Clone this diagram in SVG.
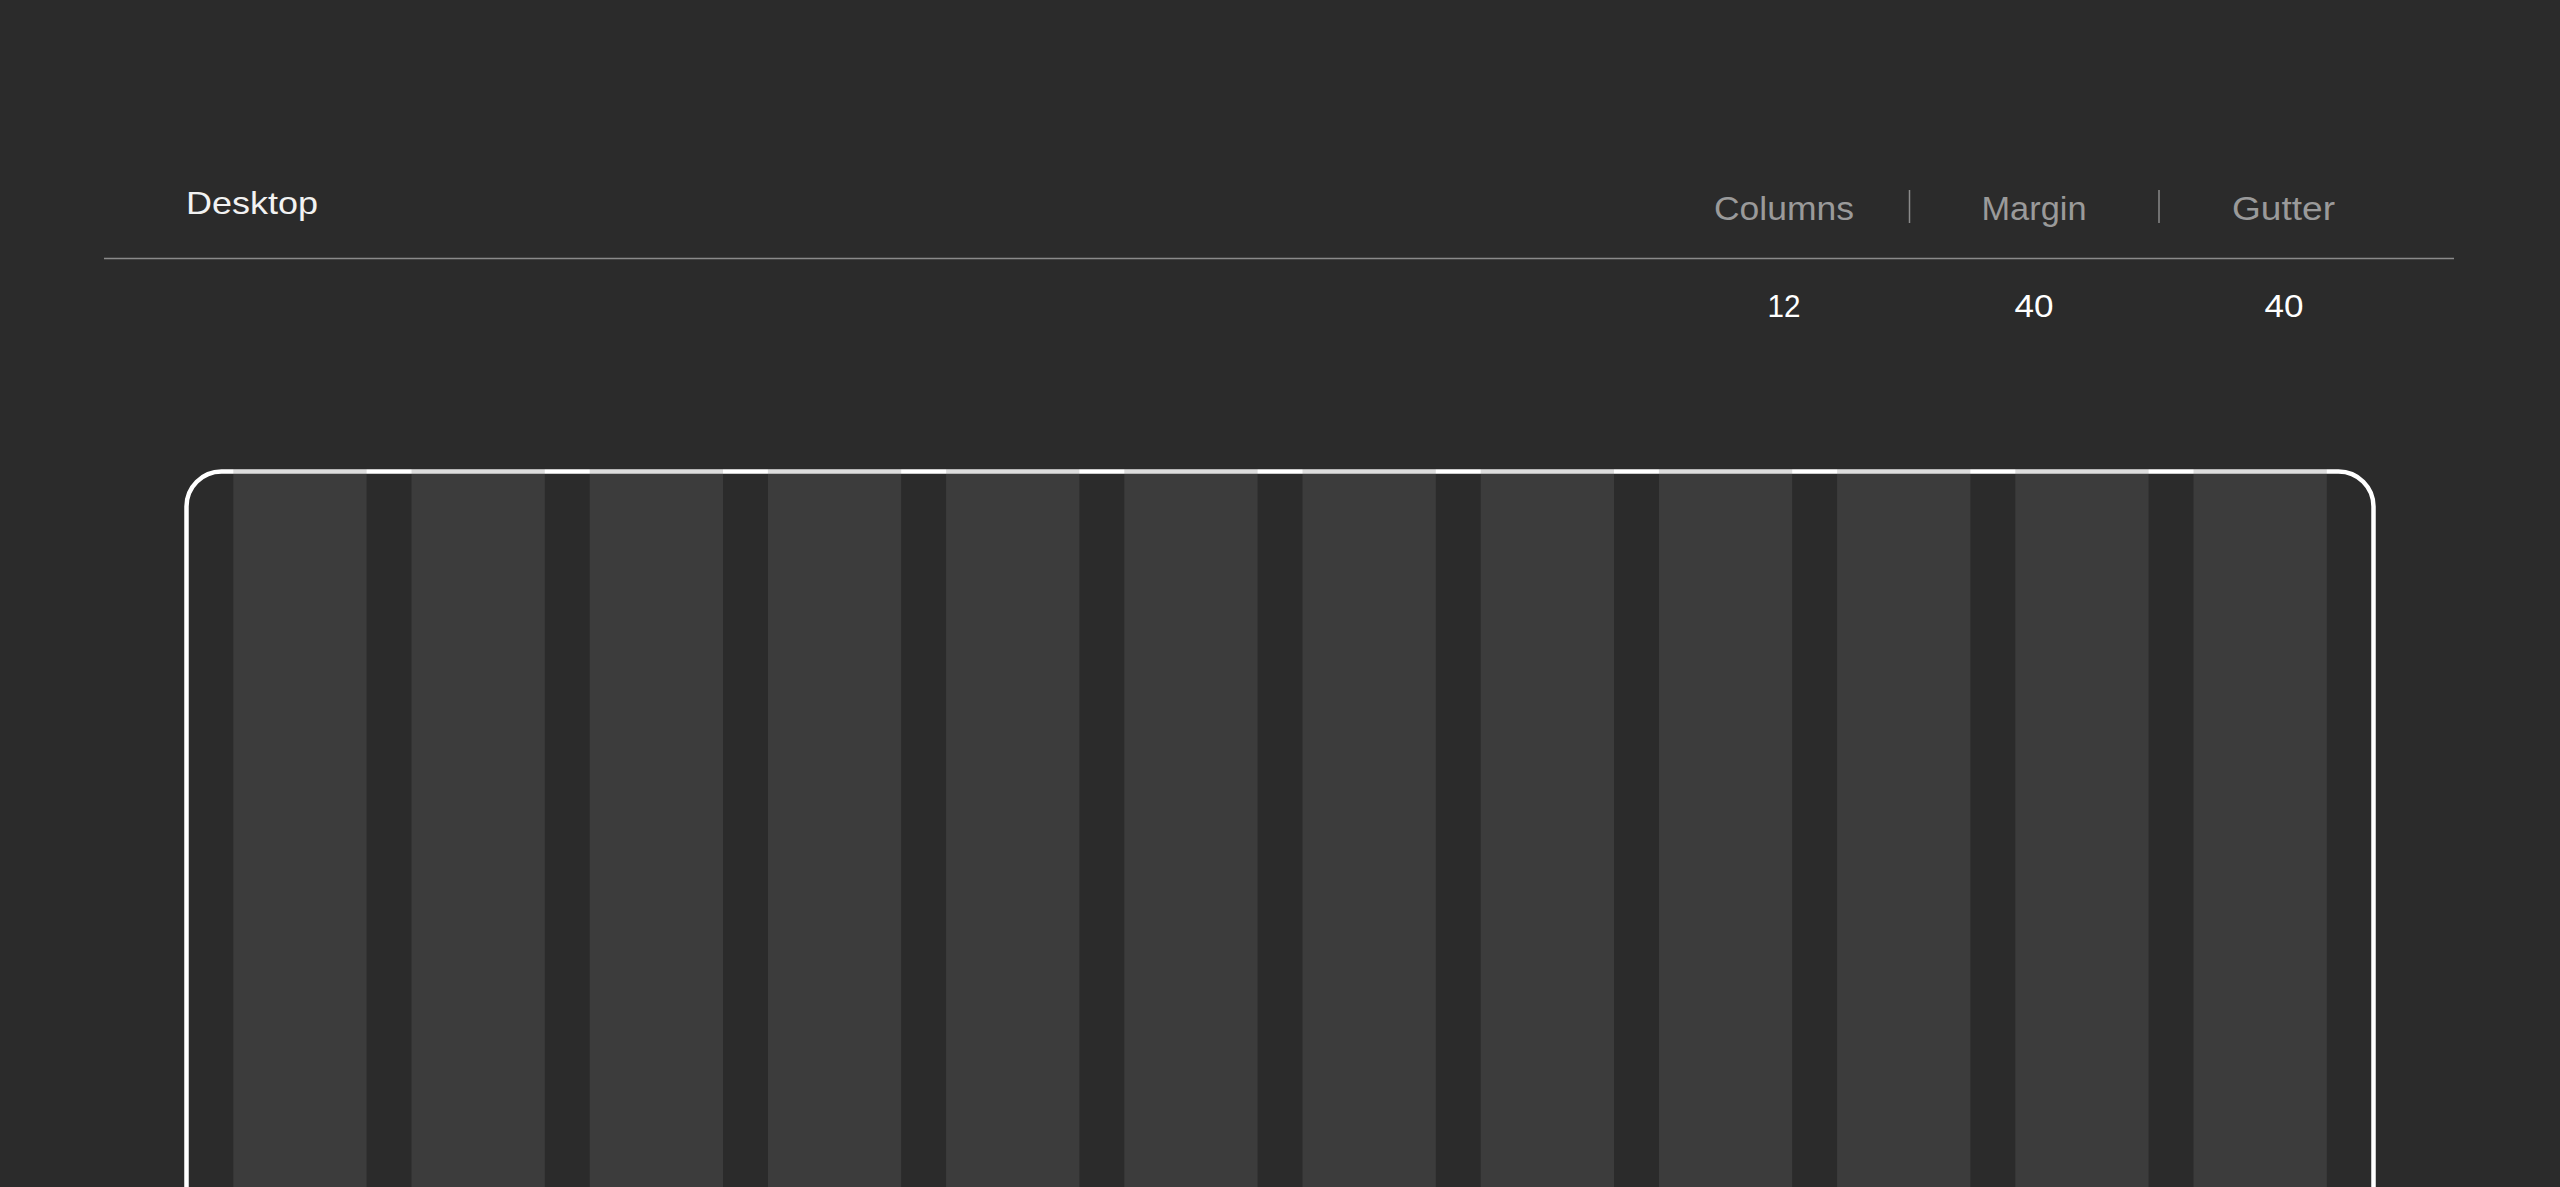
<svg xmlns="http://www.w3.org/2000/svg" width="2560" height="1187" viewBox="0 0 2560 1187">
  <style>
    .title { font-family: "Liberation Sans", Arial, sans-serif; font-size: 32px; fill: #f2f2f2; }
    .head { font-family: "Liberation Sans", Arial, sans-serif; font-size: 33px; fill: #9a9a9a; text-anchor: middle; }
    .val { font-family: "Liberation Sans", Arial, sans-serif; font-size: 32px; fill: #ffffff; text-anchor: middle; }
    .rule { stroke: #8a8a8a; stroke-width: 1.5; }
    .col { fill: rgb(116,116,116); fill-opacity: 0.245; }
  </style>
  <rect x="0" y="0" width="2560" height="1187" fill="#2b2b2b"/>

  <g id="title">
    <text class="title" x="186" y="214" textLength="132" lengthAdjust="spacingAndGlyphs">Desktop</text>
  </g>

  <g id="header">
    <line class="rule" x1="104" y1="258.5" x2="2454" y2="258.5"/>
    <line class="rule" x1="1909.5" y1="190" x2="1909.5" y2="223"/>
    <line class="rule" x1="2159" y1="190" x2="2159" y2="223"/>
    <g id="columns-spec">
      <text class="head" x="1784" y="220" textLength="140" lengthAdjust="spacingAndGlyphs">Columns</text>
      <text class="val" x="1784" y="317" textLength="33" lengthAdjust="spacingAndGlyphs">12</text>
    </g>
    <g id="margin-spec">
      <text class="head" x="2034" y="220" textLength="105" lengthAdjust="spacingAndGlyphs">Margin</text>
      <text class="val" x="2034" y="317" textLength="39" lengthAdjust="spacingAndGlyphs">40</text>
    </g>
    <g id="gutter-spec">
      <text class="head" x="2283.5" y="220" textLength="103" lengthAdjust="spacingAndGlyphs">Gutter</text>
      <text class="val" x="2284" y="317" textLength="39" lengthAdjust="spacingAndGlyphs">40</text>
    </g>
  </g>

  <g id="frame">
    <rect x="186.5" y="471.5" width="2187" height="900" rx="35" ry="35" fill="none" stroke="#ffffff" stroke-width="4.5"/>
  </g>

  <g id="grid">
    <rect class="col" x="233.3" y="469" width="133.3" height="718"/>
    <rect class="col" x="411.5" y="469" width="133.3" height="718"/>
    <rect class="col" x="589.7" y="469" width="133.3" height="718"/>
    <rect class="col" x="767.9" y="469" width="133.3" height="718"/>
    <rect class="col" x="946.1" y="469" width="133.3" height="718"/>
    <rect class="col" x="1124.3" y="469" width="133.3" height="718"/>
    <rect class="col" x="1302.5" y="469" width="133.3" height="718"/>
    <rect class="col" x="1480.7" y="469" width="133.3" height="718"/>
    <rect class="col" x="1658.9" y="469" width="133.3" height="718"/>
    <rect class="col" x="1837.1" y="469" width="133.3" height="718"/>
    <rect class="col" x="2015.3" y="469" width="133.3" height="718"/>
    <rect class="col" x="2193.5" y="469" width="133.3" height="718"/>
  </g>
</svg>
